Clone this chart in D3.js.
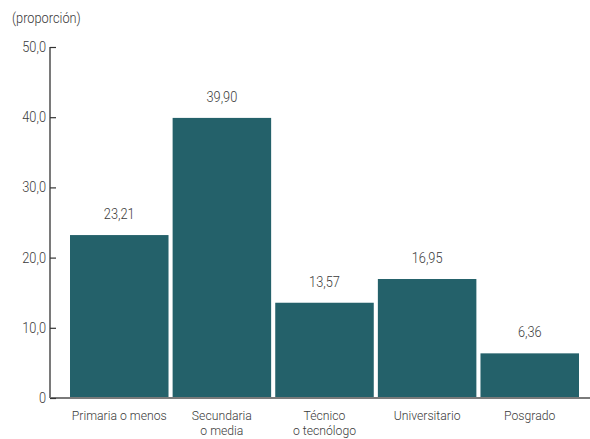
<!DOCTYPE html>
<html><head><meta charset="utf-8">
<script src="https://cdn.jsdelivr.net/npm/d3@7"></script>
<style>
body{margin:0;background:#fff;}
text{font-family:Roboto,"Liberation Sans",sans-serif;font-weight:300;fill:#3a3a3a;}
</style></head>
<body><svg id="c" width="590" height="439"></svg>
<script>
const categories = [["Primaria o menos"],["Secundaria","o media"],["Técnico","o tecnólogo"],["Universitario"],["Posgrado"]];
const values = [23.21, 39.90, 13.57, 16.95, 6.36];
const valueLabels = ["23,21","39,90","13,57","16,95","6,36"];
const yTicks = [0,10,20,30,40,50];
const yTickLabels = ["0","10,0","20,0","30,0","40,0","50,0"];
const yTitle = "(proporción)";

const SX = 0.9, FS = 14.2;
const svg = d3.select("#c");
const x = d3.scaleBand().domain(d3.range(values.length)).range([70,579]).paddingInner(0.04).paddingOuter(0);
const y = d3.scaleLinear().domain([0,50]).range([398,47]);

function label(px, py, anchor, lines, lh, fs, sx){
  lines.forEach((l,j)=>{
    svg.append("g").attr("transform",`translate(${px},${py + j*(lh||0)}) scale(${sx||SX},1)`)
      .append("text").attr("text-anchor",anchor).attr("font-size",fs||FS).text(l);
  });
}

label(12,23,"start",[yTitle]);

// bars
svg.selectAll("rect.bar").data(values).enter().append("rect")
  .attr("class","bar")
  .attr("x",(d,i)=>x(i)).attr("width",x.bandwidth())
  .attr("y",d=>y(d)).attr("height",d=>y(0)-y(d))
  .attr("fill","#24616a");

// baseline
svg.append("line").attr("x1",50).attr("x2",590).attr("y1",y(0)).attr("y2",y(0))
  .attr("stroke","#7a7a7a").attr("stroke-width",2);

// y axis
const ax = svg.append("g").attr("transform","translate(50,0)")
  .call(d3.axisRight(y).tickValues(yTicks).tickSize(6).tickFormat(""));
ax.select(".domain").attr("stroke","#7a7a7a").attr("stroke-width",2).attr("d",`M0,${y(50)}V${y(0)}`);
ax.selectAll(".tick line").attr("stroke","#333").attr("stroke-width",1.2);
yTicks.forEach((d,i)=>label(46, y(d)+5, "end", [yTickLabels[i]]));

// value labels
values.forEach((d,i)=>label(x(i)+x.bandwidth()/2, y(d)-16, "middle", [valueLabels[i]]));

// category labels
categories.forEach((lines,i)=>label(x(i)+x.bandwidth()/2, 419.5, "middle", lines, 15.5, 12.6, 0.97));
</script></body></html>
